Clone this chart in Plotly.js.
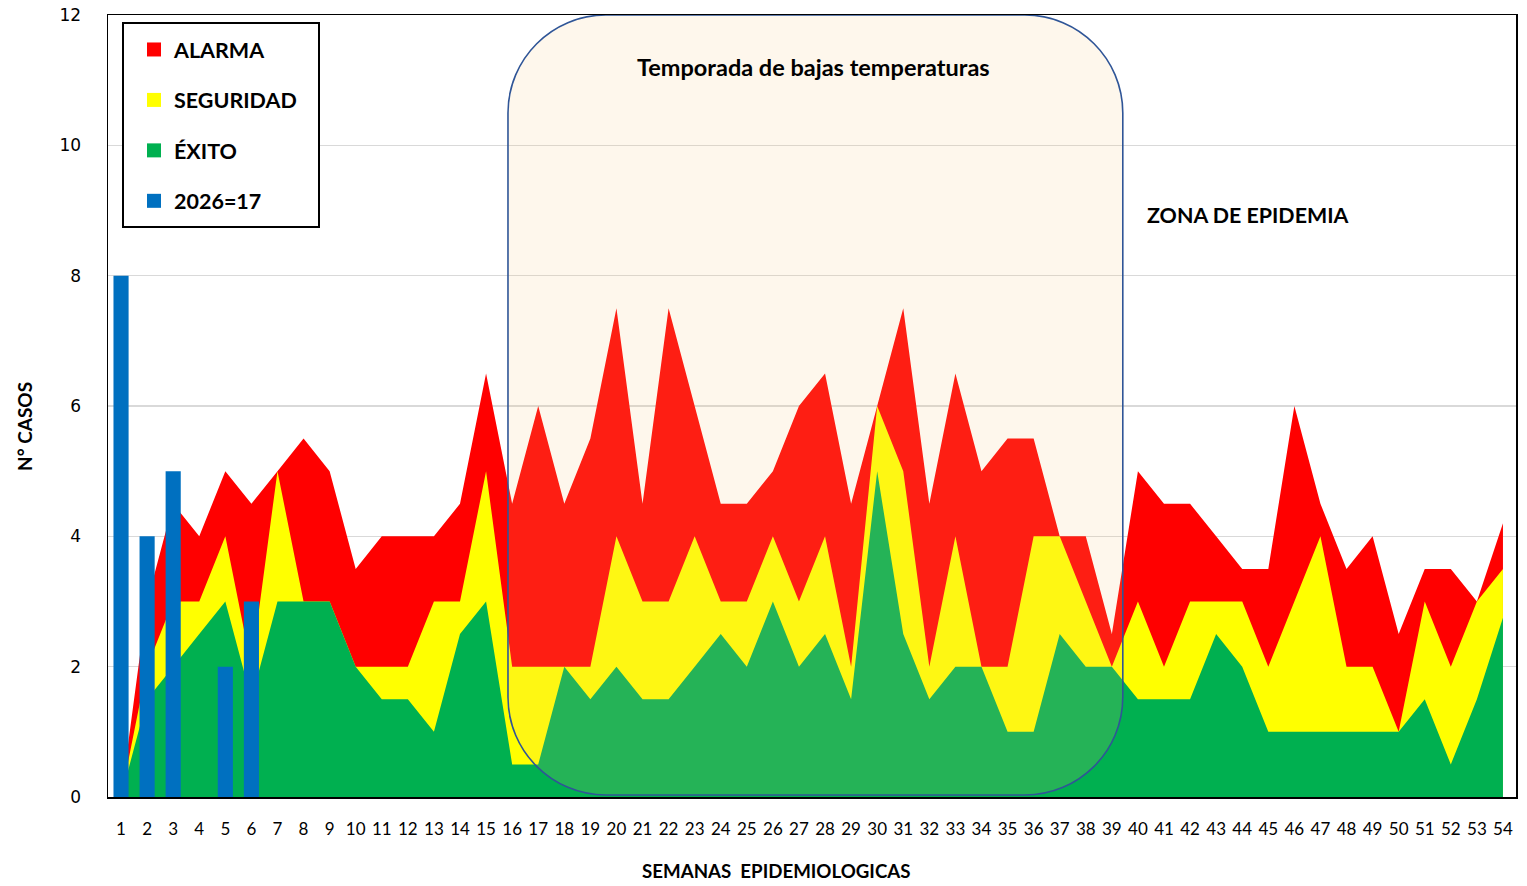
<!DOCTYPE html>
<html><head><meta charset="utf-8">
<script src="https://cdn.plot.ly/plotly-3.0.1.min.js"></script>
<style>html,body{margin:0;padding:0;background:#fff}#chart{width:1527px;height:886px}</style>
</head><body><div id="chart"></div>
<script>
// ---- data ----
const weeks = [1,2,3,4,5,6,7,8,9,10,11,12,13,14,15,16,17,18,19,20,21,22,23,24,25,26,27,28,29,30,31,32,33,34,35,36,37,38,39,40,41,42,43,44,45,46,47,48,49,50,51,52,53,54];
const alarma = [0,3,4.5,4,5,4.5,5,5.5,5,3.5,4,4,4,4.5,6.5,4.5,6,4.5,5.5,7.5,4.5,7.5,6,4.5,4.5,5,6,6.5,4.5,6,7.5,4.5,6.5,5,5.5,5.5,4,4,2.5,5,4.5,4.5,4,3.5,3.5,6,4.5,3.5,4,2.5,3.5,3.5,3,4.2];
const seguridad = [0,2,3,3,4,2,5,3,3,2,2,2,3,3,5,2,2,2,2,4,3,3,4,3,3,4,3,4,2,6,5,2,4,2,2,4,4,3,2,3,2,3,3,3,2,3,4,2,2,1,3,2,3,3.5];
const exito = [0,1.5,2,2.5,3,1.5,3,3,3,2,1.5,1.5,1,2.5,3,0.5,0.5,2,1.5,2,1.5,1.5,2,2.5,2,3,2,2.5,1.5,5,2.5,1.5,2,2,1,1,2.5,2,2,1.5,1.5,1.5,2.5,2,1,1,1,1,1,1,1.5,0.5,1.5,2.75];
const barWeeks = [1,2,3,5,6];
const casos2026 = [8,4,5,2,3];
const seriesNames = ['ALARMA','SEGURIDAD','ÉXITO','2026=17'];
const seriesColors = ['#FF0000','#FFFF00','#00B050','#0070C0'];
const seasonWeeks = [15.84, 39.42];

// ---- geometry helpers ----
const W = 1527, H = 886, ML = 108, MR = 11, MT = 15, MB = 89;
const PW = W - ML - MR, PH = H - MT - MB;
const xRange = [0.5, 54.5], yRange = [0, 12];
const pxX = p => (p - ML) / PW;          // pixel -> paper x
const pxY = p => (H - MB - p) / PH;      // pixel -> paper y
const dxPx = (xRange[1]-xRange[0]) / PW;
const dyPx = (yRange[1]-yRange[0]) / PH;

function roundedRect(x0, x1, y0, y1, rx, ry) {
  const k = 1 - 0.5523;
  return `M${x0+rx},${y1} L${x1-rx},${y1} C${x1-rx*k},${y1} ${x1},${y1-ry*k} ${x1},${y1-ry} ` +
         `L${x1},${y0+ry} C${x1},${y0+ry*k} ${x1-rx*k},${y0} ${x1-rx},${y0} ` +
         `L${x0+rx},${y0} C${x0+rx*k},${y0} ${x0},${y0+ry*k} ${x0},${y0+ry} ` +
         `L${x0},${y1-ry} C${x0},${y1-ry*k} ${x0+rx*k},${y1} ${x0+rx},${y1} Z`;
}

const areaSeries = [alarma, seguridad, exito];
const traces = [];
// legend-only entries (square markers)
seriesNames.forEach((n, i) => {
  traces.push({type:'scatter', mode:'markers', x:[null], y:[null], name:n, legendgroup:'g'+i,
    marker:{symbol:'square', size:14, color:seriesColors[i]}, showlegend:true, hoverinfo:'skip'});
});
areaSeries.forEach((vals, i) => {
  traces.push({type:'scatter', mode:'none', x:weeks, y:vals, fill:'tozeroy',
    fillcolor:seriesColors[i], name:seriesNames[i], legendgroup:'g'+i, showlegend:false});
});
traces.push({type:'bar', x:barWeeks, y:casos2026, yaxis:'y2', width:0.58,
  marker:{color:seriesColors[3], line:{width:0}}, name:seriesNames[3], legendgroup:'g3', showlegend:false});

const boldFont = (s) => ({family:'Lato, "Open Sans", sans-serif', size:s, color:'#000', weight:700});
const rpx = 98;

const layout = {
  width:W, height:H, margin:{l:ML, r:MR, t:MT, b:MB},
  paper_bgcolor:'#fff', plot_bgcolor:'#fff', showlegend:true,
  xaxis:{range:xRange, tickmode:'array', tickvals:weeks, ticktext:weeks.map(String),
    showgrid:false, zeroline:false, showline:true, mirror:true, linecolor:'#000', linewidth:1.5,
    ticks:'', ticklabelstandoff:16, tickfont:{family:'Lato, "Open Sans", sans-serif', size:17, color:'#000'}},
  yaxis:{range:yRange, dtick:2, showgrid:true, gridcolor:'#D9D9D9', gridwidth:1.5, zeroline:false,
    showline:true, mirror:true, linecolor:'#000', linewidth:1.5, ticks:'', ticklabelstandoff:22,
    tickfont:{family:'"DejaVu Sans", sans-serif', size:17, color:'#000'}},
  yaxis2:{overlaying:'y', range:yRange, visible:false},
  legend:{x:pxX(134), y:pxY(29), xanchor:'left', yanchor:'top', bgcolor:'rgba(0,0,0,0)', borderwidth:0,
    font:boldFont(21.5), traceorder:'grouped', tracegroupgap:19.5, itemsizing:'trace'},
  shapes:[
    {type:'path', xref:'x', yref:'y', layer:'above',
      path: roundedRect(seasonWeeks[0], seasonWeeks[1], 0.03, 12, rpx*dxPx, rpx*dyPx),
      fillcolor:'rgba(250,200,130,0.15)', line:{color:'#2F5597', width:1.6}},
    {type:'rect', xref:'paper', yref:'paper', layer:'above',
      x0:pxX(123), x1:pxX(319), y0:pxY(227), y1:pxY(23),
      fillcolor:'#fff', line:{color:'#000', width:2}}
  ],
  annotations:[
    {text:'Temporada de bajas temperaturas', xref:'paper', yref:'paper', x:pxX(813), y:pxY(67),
      showarrow:false, xanchor:'center', yanchor:'middle', font:boldFont(23.5)},
    {text:'ZONA DE EPIDEMIA', xref:'paper', yref:'paper', x:pxX(1247), y:pxY(215),
      showarrow:false, xanchor:'center', yanchor:'middle', font:boldFont(21.4)},
    {text:'SEMANAS  EPIDEMIOLOGICAS', xref:'paper', yref:'paper', x:pxX(776), y:pxY(871),
      showarrow:false, xanchor:'center', yanchor:'middle', font:boldFont(18.7)},
    {text:'N° CASOS', xref:'paper', yref:'paper', x:pxX(25), y:pxY(427), textangle:-90,
      showarrow:false, xanchor:'center', yanchor:'middle', font:boldFont(19)}
  ]
};

Plotly.newPlot('chart', traces, layout, {displayModeBar:false, staticPlot:true});
</script>
</body></html>
